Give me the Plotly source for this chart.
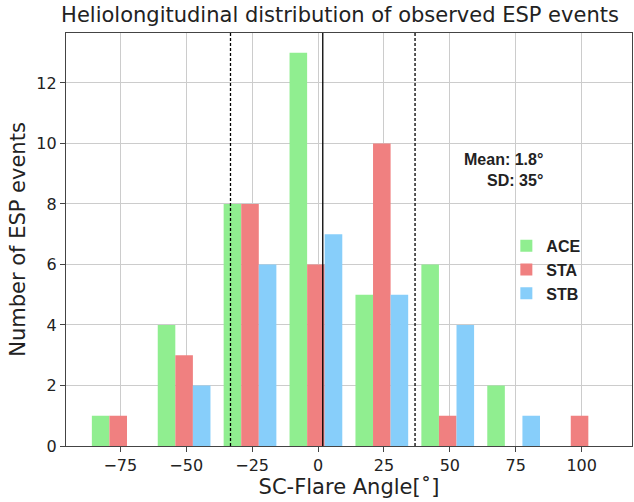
import plotly.graph_objects as go

bin_centers = [-75.8, -50.8, -25.8, -0.8, 24.2, 49.2, 74.2, 99.2]
ace = [1, 4, 8, 13, 5, 6, 2, 0]
sta = [1, 3, 8, 6, 10, 1, 0, 1]
stb = [0, 2, 6, 7, 5, 4, 1, 0]
mean_angle = 1.8
sd_angle = 35
x_ticks = [-75, -50, -25, 0, 25, 50, 75, 100]
y_ticks = [0, 2, 4, 6, 8, 10, 12]

font_fam = "DejaVu Sans"
fig = go.Figure()
for name, vals, col in [("ACE", ace, "#90EE90"), ("STA", sta, "#F08080"), ("STB", stb, "#87CEFA")]:
    fig.add_trace(go.Bar(x=bin_centers, y=vals, name=f"<b>{name}</b>",
                         marker=dict(color=col, line=dict(width=0))))

for xv, dash in [(mean_angle - sd_angle, "3px,2px"), (mean_angle, "solid"), (mean_angle + sd_angle, "3px,2px")]:
    fig.add_shape(type="line", x0=xv, x1=xv, y0=0, y1=1, xref="x", yref="paper",
                  line=dict(color="black", width=1.3, dash=dash))

fig.add_annotation(x=86.2, y=9.13, xref="x", yref="y", xanchor="right", align="right",
                   text=f"<b>Mean: {mean_angle}°<br>SD: {sd_angle}°</b>", showarrow=False,
                   font=dict(family="Liberation Sans", size=16, color="#222"))

fig.update_layout(
    width=634, height=502,
    margin=dict(l=66, r=2, t=33, b=56),
    plot_bgcolor="white", paper_bgcolor="white",
    barmode="group", bargap=0.2, bargroupgap=0,
    title=dict(text="Heliolongitudinal distribution of observed ESP events",
               x=340 / 634, xanchor="center", y=1 - 15 / 502, yanchor="middle",
               font=dict(family=font_fam, size=21, color="#222")),
    legend=dict(x=0.778, y=0.526, xanchor="left", yanchor="top", bgcolor="rgba(0,0,0,0)",
                font=dict(family="Liberation Sans Narrow, Liberation Sans", size=16, color="#222"),
                tracegroupgap=0, itemwidth=30),
    showlegend=True,
)
fig.update_xaxes(range=[-95.6, 119.1], tickvals=x_ticks, ticktext=[str(t).replace("-", "−") for t in x_ticks],
                 showgrid=True, gridcolor="#cccccc", gridwidth=1, layer="above traces",
                 showline=True, linecolor="#444", linewidth=1.2, mirror=True, automargin=False,
                 ticks="outside", ticklen=5, tickcolor="#444", zeroline=False,
                 tickfont=dict(family=font_fam, size=16, color="#222"),
                 title=dict(text="SC-Flare Angle[˚]", font=dict(family=font_fam, size=21, color="#222"), standoff=4))
fig.update_yaxes(range=[0, 13.65], tickvals=y_ticks,
                 showgrid=True, gridcolor="#cccccc", gridwidth=1, layer="above traces",
                 showline=True, linecolor="#444", linewidth=1.2, mirror=True, automargin=False,
                 ticks="outside", ticklen=5, tickcolor="#444", zeroline=False,
                 tickfont=dict(family=font_fam, size=16, color="#222"),
                 title=dict(text="Number of ESP events", font=dict(family=font_fam, size=21, color="#222"), standoff=4))

fig.write_html("out.html", config={"displayModeBar": False},
               post_script="document.body.style.margin='0px';")
